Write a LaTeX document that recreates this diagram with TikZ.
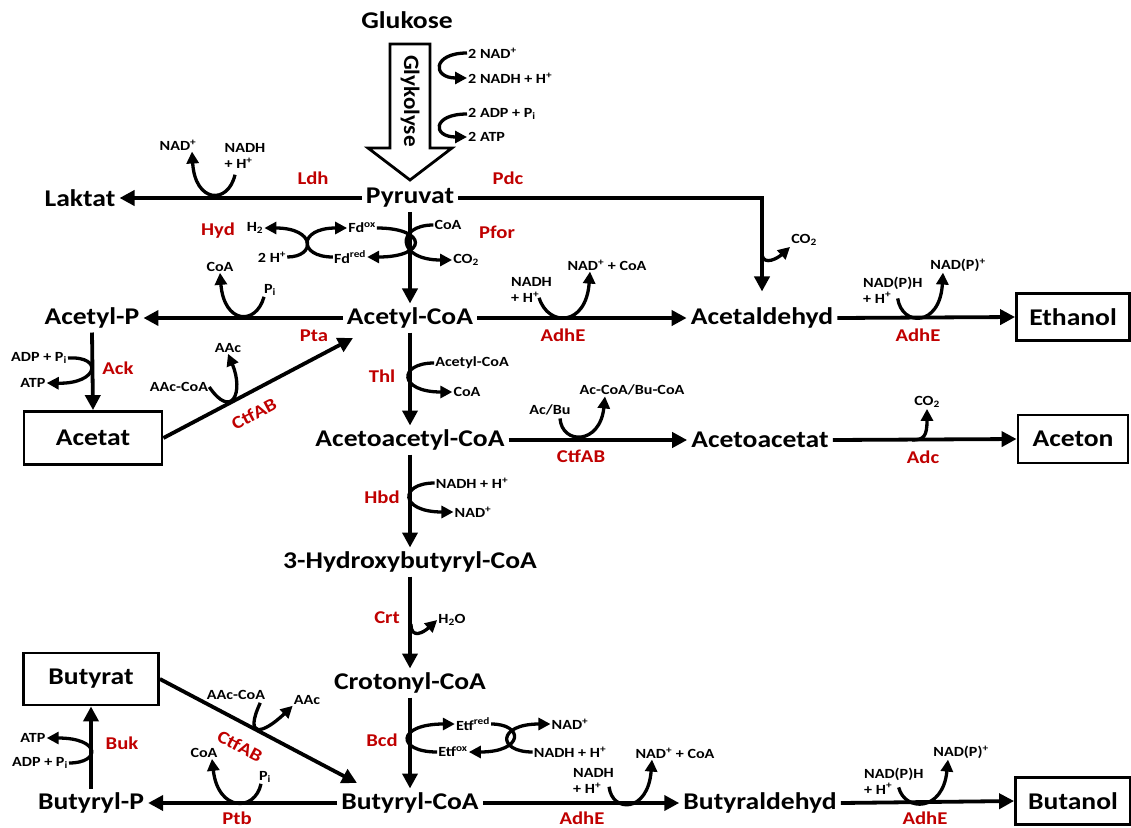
\documentclass[tikz,border=0pt]{standalone}
\usepackage{fontspec}
\setmainfont{Carlito}[FakeStretch=1.15]
\newfontfamily\glyfont{Carlito}[FakeStretch=1.05]
\usetikzlibrary{arrows.meta}
\definecolor{enzred}{RGB}{192,0,0}

\begin{document}
\begin{tikzpicture}[x=1pt,y=-1pt,
	met/.style={font=\fontsize{24}{26}\selectfont\bfseries, inner sep=4pt},
	prod/.style={met, draw, line width=2.8pt, minimum width=113pt, minimum height=47pt},
	cof/.style={font=\fontsize{14}{16}\selectfont\bfseries, inner sep=1pt},
	enz/.style={font=\fontsize{18}{18}\selectfont\bfseries, text=enzred, inner sep=1pt},
	flux/.style={line width=3.8pt, -{Triangle[length=15pt,width=15pt]}},
	side/.style={line width=3.3pt, -{Triangle[length=12pt,width=12pt]}}]
	\fill[white] (0,0) rectangle (1131,827);
	\useasboundingbox (0,0) rectangle (1131,827);

	% Glykolyse
	\draw[line width=2.8pt, fill=white] (390,44) -- (430,44) -- (430,148) -- (452,148) -- (410,180) -- (368,148) -- (390,148) -- cycle;
	\node[rotate=-90, font=\glyfont\fontsize{22}{22}\selectfont\bfseries] (glyk) at (410,101) {Glykolyse};

	% Metabolite
	\node[met] (gluk) at (407,20) {Glukose};
	\node[met] (pyr) at (410,198) {Pyruvat};
	\node[met] (lak) at (80,198) {Laktat};
	\node[met] (acoa) at (410,318) {Acetyl-CoA};
	\node[met] (acp) at (92,318) {Acetyl-P};
	\node[met] (acald) at (762,318) {Acetaldehyd};
	\node[prod] (eth) at (1073,317) {Ethanol};
	\node[met] (aacoa) at (410,440) {Acetoacetyl-CoA};
	\node[met] (aac) at (760,440) {Acetoacetat};
	\node[prod, minimum width=110pt, minimum height=48pt] (acn) at (1073,439) {Aceton};
	\node[prod, minimum width=138pt, minimum height=53pt] (acet) at (93,438) {Acetat};
	\node[met] (hbcoa) at (410,562) {3-Hydroxybutyryl-CoA};
	\node[met] (ccoa) at (410,683) {Crotonyl-CoA};
	\node[met] (bcoa) at (410,803) {Butyryl-CoA};
	\node[met] (bp) at (91,803) {Butyryl-P};
	\node[met] (bald) at (760,803) {Butyraldehyd};
	\node[prod, minimum width=115pt] (but) at (1073,801) {Butanol};
	\node[prod, minimum width=135pt, minimum height=52pt] (buta) at (91,679) {Butyrat};
	\coordinate (ctfA) at (353,338);
	\coordinate (ctfB) at (357,783);

	% Hauptwege
	\draw[flux] (pyr.west) -- (lak.east);
	\draw[flux] (pyr.east) -| ([yshift=12pt]acald.north);
	\draw[flux] (pyr.south) -- (acoa.north);
	\draw[flux] (acoa.west) -- (acp.east);
	\draw[flux] (acoa.east) -- (acald.west);
	\draw[flux] (acald.east) -- (eth.west);
	\draw[flux] (acp.south) -- (acet.north);
	\draw[flux] (acet.east) -- (ctfA);
	\draw[flux] (acoa.south) -- (aacoa.north);
	\draw[flux] (aacoa.east) -- (aac.west);
	\draw[flux] (aac.east) -- (acn.west);
	\draw[flux] (aacoa.south) -- (hbcoa.north);
	\draw[flux] (hbcoa.south) -- (ccoa.north);
	\draw[flux] (ccoa.south) -- (bcoa.north);
	\draw[flux] (bcoa.west) -- (bp.east);
	\draw[flux] (bcoa.east) -- (bald.west);
	\draw[flux] (bald.east) -- (but.west);
	\draw[flux] (bp.north) -- (buta.south);
	\draw[flux] (buta.east) -- (ctfB);

	% Enzyme
	\node[enz] (ldh) at (313,178) {Ldh};
	\node[enz] (pdc) at (508,178) {Pdc};
	\node[enz] (hyd) at (218,231) {Hyd};
	\node[enz] (pfor) at (497,232) {Pfor};
	\node[enz] (pta) at (314,336) {Pta};
	\node[enz] (adhe1) at (563,335) {AdhE};
	\node[enz] (adhe2) at (918,335) {AdhE};
	\node[enz] (ack) at (118,368) {Ack};
	\node[enz] (thl) at (382,376) {Thl};
	\node[enz, rotate=28] (ctf1) at (254,414) {CtfAB};
	\node[enz] (ctf2) at (581,456) {CtfAB};
	\node[enz] (adc) at (923,457) {Adc};
	\node[enz] (hbd) at (382,497) {Hbd};
	\node[enz] (crt) at (387,618) {Crt};
	\node[enz] (bcd) at (382,740) {Bcd};
	\node[enz] (buk) at (122,743) {Buk};
	\node[enz, rotate=-28] (ctf3) at (240,746) {CtfAB};
	\node[enz] (ptb) at (237,818) {Ptb};
	\node[enz] (adhe3) at (582,818) {AdhE};
	\node[enz] (adhe4) at (925,818) {AdhE};

	% Cofaktoren
	\node[cof, anchor=west] (nadG) at (467,53) {2 NAD\textsuperscript{+}};
	\node[cof, anchor=west] (nadhG) at (467,78) {2 NADH + H\textsuperscript{+}};
	\node[cof, anchor=west] (adpG) at (467,114) {2 ADP + P\textsubscript{i}};
	\node[cof, anchor=west] (atpG) at (467,137) {2 ATP};
	\node[cof] (nadL) at (178,145) {NAD\textsuperscript{+}};
	\node[cof, align=left] (nadhL) at (245,156) {NADH\\+ H\textsuperscript{+}};
	\node[cof] (h2) at (255,228) {H\textsubscript{2}};
	\node[cof] (hplus) at (272,257) {2 H\textsuperscript{+}};
	\node[cof] (fdox) at (362,228) {Fd\textsuperscript{ox}};
	\node[cof] (fdred) at (350,257) {Fd\textsuperscript{red}};
	\node[cof] (coaP) at (448,225) {CoA};
	\node[cof] (co2P) at (466,260) {CO\textsubscript{2}};
	\node[cof] (coaA) at (220,267) {CoA};
	\node[cof] (piA) at (270,290) {P\textsubscript{i}};
	\node[cof, align=left, anchor=west] (nadhE1) at (510,290) {NADH\\+ H\textsuperscript{+}};
	\node[cof] (nadcoaE1) at (607,265) {NAD\textsuperscript{+} + CoA};
	\node[cof] (co2Pdc) at (804,240) {CO\textsubscript{2}};
	\node[cof, align=left, anchor=west] (npE1) at (862,290) {NAD(P)H\\+ H\textsuperscript{+}};
	\node[cof] (nppE1) at (958,265) {NAD(P)\textsuperscript{+}};
	\node[cof] (adpA) at (39,358) {ADP + P\textsubscript{i}};
	\node[cof] (atpA) at (33,383) {ATP};
	\node[cof] (aacA) at (228,348) {AAc};
	\node[cof] (aacoaA) at (179,387) {AAc-CoA};
	\node[cof] (acoaT) at (472,363) {Acetyl-CoA};
	\node[cof] (coaT) at (467,392) {CoA};
	\node[cof] (acbu) at (550,410) {Ac/Bu};
	\node[cof] (acbucoa) at (632,390) {Ac-CoA/Bu-CoA};
	\node[cof] (co2Adc) at (927,402) {CO\textsubscript{2}};
	\node[cof] (nadhH) at (472,483) {NADH + H\textsuperscript{+}};
	\node[cof] (nadH) at (473,512) {NAD\textsuperscript{+}};
	\node[cof] (h2o) at (452,620) {H\textsubscript{2}O};
	\node[cof] (etfred) at (473,724) {Etf\textsuperscript{red}};
	\node[cof] (etfox) at (453,752) {Etf\textsuperscript{ox}};
	\node[cof] (nadB) at (570,724) {NAD\textsuperscript{+}};
	\node[cof] (nadhB) at (570,752) {NADH + H\textsuperscript{+}};
	\node[cof] (nadcoaE3) at (675,753) {NAD\textsuperscript{+} + CoA};
	\node[cof, align=left, anchor=west] (nadhE3) at (572,781) {NADH\\+ H\textsuperscript{+}};
	\node[cof, align=left, anchor=west] (npE4) at (863,781) {NAD(P)H\\+ H\textsuperscript{+}};
	\node[cof] (nppE4) at (961,752) {NAD(P)\textsuperscript{+}};
	\node[cof] (aacoaB) at (236,695) {AAc-CoA};
	\node[cof] (aacB) at (307,700) {AAc};
	\node[cof] (atpB) at (33,738) {ATP};
	\node[cof] (adpB) at (40,763) {ADP + P\textsubscript{i}};
	\node[cof] (coaB) at (204,753) {CoA};
	\node[cof] (piB) at (265,777) {P\textsubscript{i}};
	\coordinate (co2start) at (762,255);
	\coordinate (adcstart) at (912,440);
	\coordinate (crtstart) at (411,624);

	% Nebenreaktionen
	\draw[side] (nadG.west) .. controls (432,53) and (432,78) .. (nadhG.west);
	\draw[side] (adpG.west) .. controls (432,114) and (432,137) .. (atpG.west);
	\draw[side] ([shift={(-10,5)}]nadhL.south) .. controls (228,205) and (195,203) .. ([shift={(14,0)}]nadL.south);
	\draw[side] (hplus.east) .. controls (316,257) and (316,228) .. (h2.east);
	\draw[side] (fdred.west) .. controls (298,257) and (298,228) .. (fdox.west);
	\draw[side] (fdox.east) .. controls (428,228) and (428,257) .. (fdred.east);
	\draw[side] (coaP.west) .. controls (396,225) and (396,260) .. (co2P.west);
	\draw[side] ([shift={(-6,0)}]piA.south) .. controls (256,326) and (224,324) .. (coaA.south);
	\draw[side] ([shift={(-14,-6)}]nadhE1.south east) .. controls (548,327) and (586,327) .. ([shift={(-17,0)}]nadcoaE1.south);
	\draw[side] (co2start) .. controls (764,266) and (778,258) .. (co2Pdc.south west);
	\draw[side] ([shift={(-26,-6)}]npE1.south east) .. controls (902,327) and (940,327) .. ([shift={(-15,0)}]nppE1.south);
	\draw[side] (adpA.east) .. controls (104,356) and (98,384) .. (atpA.east);
	\draw[side] (aacoaA.east) .. controls (232,420) and (244,392) .. (aacA.south);
	\draw[side] (acoaT.west) .. controls (398,363) and (398,392) .. (coaT.west);
	\draw[side] ([shift={(10,2)}]acbu.south) .. controls (562,445) and (600,445) .. ([shift={(-27,0)}]acbucoa.south);
	\draw[side] (adcstart) .. controls (924,440) and (927,436) .. (co2Adc.south);
	\draw[side] (nadhH.west) .. controls (399,483) and (399,512) .. (nadH.west);
	\draw[side] (crtstart) .. controls (411,640) and (424,632) .. (h2o.west);
	\draw[side] (etfox.west) .. controls (396,752) and (396,724) .. (etfred.west);
	\draw[side] (etfred.east) .. controls (524,724) and (524,752) .. (etfox.east);
	\draw[side] (nadhB.west) .. controls (497,752) and (497,724) .. (nadB.west);
	\draw[side] (adpB.east) .. controls (101,763) and (101,738) .. (atpB.east);
	\draw[side] ([shift={(-6,2)}]aacoaB.south east) .. controls (244,738) and (262,735) .. (aacB.south west);
	\draw[side] ([shift={(-4,0)}]piB.south) .. controls (255,812) and (218,812) .. ([shift={(8,0)}]coaB.south);
	\draw[side] ([shift={(-6,-8)}]nadhE3.south east) .. controls (612,813) and (648,813) .. ([shift={(-23,0)}]nadcoaE3.south);
	\draw[side] ([shift={(-26,-8)}]npE4.south east) .. controls (905,812) and (943,812) .. ([shift={(-13,0)}]nppE4.south);
\end{tikzpicture}
\end{document}
